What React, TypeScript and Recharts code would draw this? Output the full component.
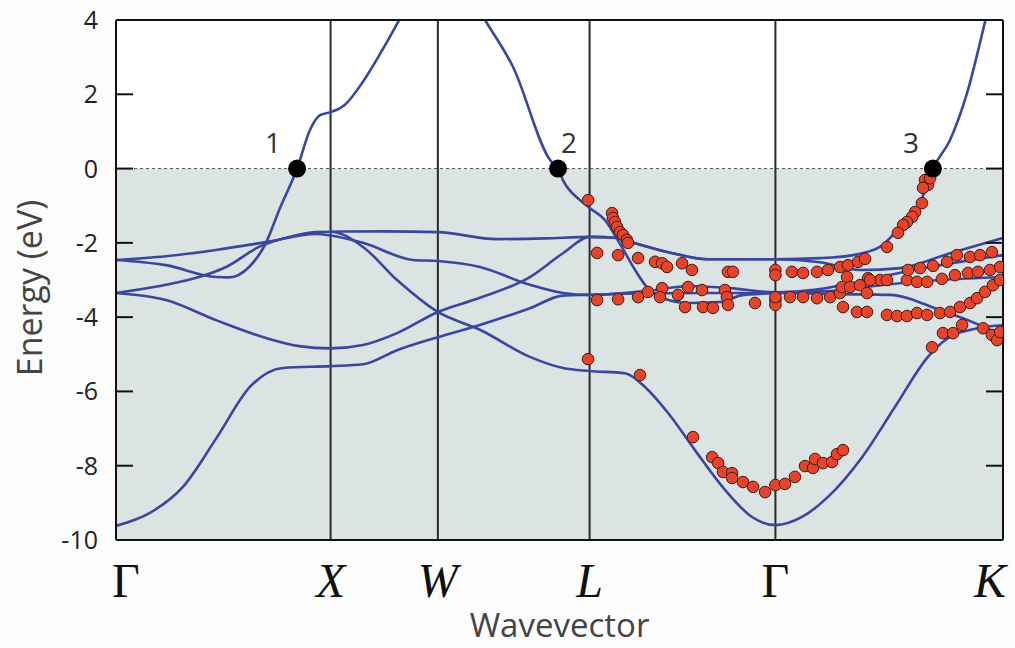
import React from "react";
import {
  ComposedChart, Line, Area, Scatter, XAxis, YAxis,
  ReferenceLine, Label,
} from "recharts";

// canvas + layout
const W = 1015;
const H = 648;
const MARGIN = { top: 20, right: 12, bottom: 0, left: 0 };
const Y_AXIS_W = 116;
const X_AXIS_H = 108;
const PLOT_L = MARGIN.left + Y_AXIS_W;
const PLOT_R = W - MARGIN.right;

// k-path (units of 2π/a), FCC: Γ-X-W-L-Γ-K
const SYM_K = [0, 1, 1.5, 2.2071, 3.0731, 4.1337];
const SYM_LABELS = ["Γ", "X", "W", "L", "Γ", "K"];
const K_END = SYM_K[SYM_K.length - 1];

const E_MIN = -10;
const E_MAX = 4;
const E_TICKS = [-10, -8, -6, -4, -2, 0, 2, 4];
const E_FERMI = 0;

// calculated bands, [k, E(eV)]
const BAND_1 = [
  [0, -9.62], [0.158, -9.27], [0.312, -8.57], [0.471, -7.23], [0.624, -5.88], [0.778, -5.37], [1.0, -5.32],
  [1.151, -5.27], [1.31, -4.89], [1.5, -4.54],
  [1.696, -4.21], [1.929, -3.76], [2.083, -3.42], [2.207, -3.40],
  [2.45, -3.36], [2.75, -3.35], [3.073, -3.35],
  [3.374, -3.38], [3.607, -3.40], [3.84, -3.81], [4.003, -4.16], [4.134, -4.50],
];
const BAND_2 = [
  [0, -3.35], [0.233, -3.54], [0.466, -4.08], [0.699, -4.56], [0.853, -4.78], [1.0, -4.84],
  [1.151, -4.75], [1.31, -4.43], [1.5, -3.86],
  [1.696, -3.48], [1.929, -2.92], [2.083, -2.28], [2.207, -1.84],
  [2.339, -1.87], [2.419, -2.01], [2.573, -2.25], [2.759, -2.44], [3.073, -2.44],
  [3.281, -2.52], [3.467, -2.73], [3.654, -2.68], [3.887, -2.28], [4.134, -1.87],
];
const BAND_3 = [
  [0, -3.35], [0.233, -3.13], [0.387, -2.92], [0.513, -2.65], [0.666, -2.11], [0.806, -1.84], [0.932, -1.71], [1.0, -1.70],
  [1.151, -2.11], [1.31, -3.0], [1.5, -3.86],
  [1.696, -4.34], [1.929, -5.07], [2.083, -5.37], [2.207, -5.45],
  [2.372, -5.51], [2.465, -5.88], [2.573, -6.58], [2.698, -7.58], [2.838, -8.65], [2.964, -9.38], [3.073, -9.60],
  [3.197, -9.38], [3.318, -8.84], [3.477, -7.77], [3.63, -6.42], [3.784, -5.07], [3.863, -4.62], [4.013, -4.30], [4.134, -4.22],
];
const BAND_4 = [
  [0, -2.46], [0.233, -2.36], [0.466, -2.19], [0.699, -1.98], [0.932, -1.76], [1.0, -1.80],
  [1.151, -2.0], [1.384, -2.46], [1.5, -2.49],
  [1.696, -2.65], [1.929, -3.13], [2.083, -3.35], [2.207, -3.40],
  [2.475, -3.30], [2.675, -3.16], [2.861, -3.22], [3.073, -3.33],
  [3.327, -3.30], [3.56, -3.14], [3.84, -3.0], [4.134, -2.92],
];
const BAND_5 = [
  [0, -2.46], [0.233, -2.60], [0.466, -2.92], [0.527, -2.93], [0.62, -2.65], [0.699, -2.0], [0.76, -1.12],
  [0.844, 0], [0.904, 1.04], [0.951, 1.44], [1.0, 1.52],
  [1.067, 1.72], [1.151, 2.34], [1.23, 3.08], [1.324, 4.05], [1.5, 6.2],
  [1.72, 4.0], [1.85, 2.74], [2.023, 0.23], [2.06, 0], [2.083, -0.31], [2.162, -0.85], [2.207, -1.06],
  [2.279, -1.39], [2.339, -1.93], [2.419, -2.73], [2.475, -3.20], [2.549, -3.49], [2.675, -3.62], [2.829, -3.59], [2.908, -3.42], [3.073, -3.35],
  [3.281, -3.24], [3.435, -3.08], [3.56, -2.92], [3.793, -2.65], [4.134, -2.33],
];
const BAND_6 = [
  [1.0, -1.70], [1.25, -1.69], [1.5, -1.71], [1.776, -1.90], [2.0, -1.88], [2.207, -1.84],
  [2.339, -1.87], [2.419, -2.01], [2.573, -2.25], [2.759, -2.44], [3.073, -2.44],
  [3.281, -2.41], [3.435, -2.33], [3.56, -2.11], [3.654, -1.57], [3.747, -0.93], [3.807, 0],
  [3.887, 0.77], [3.966, 2.03], [4.05, 3.95], [4.134, 6.0],
];
const BANDS = [BAND_1, BAND_2, BAND_3, BAND_4, BAND_5, BAND_6];

// measured (ARPES) points, [k, E(eV)]
const EXP_L_GAMMA = [
  [2.2, -0.85], [2.2, -5.13],
  [2.312, -1.2], [2.316, -1.33], [2.325, -1.44], [2.335, -1.57], [2.349, -1.71], [2.363, -1.79], [2.381, -1.92], [2.386, -2.0],
  [2.242, -2.27], [2.34, -2.33], [2.433, -2.41], [2.512, -2.51], [2.545, -2.55], [2.568, -2.65], [2.638, -2.55], [2.684, -2.73],
  [2.852, -2.78], [2.875, -2.78], [3.073, -2.73], [3.073, -2.87],
  [2.242, -3.54], [2.34, -3.52], [2.433, -3.46], [2.479, -3.32], [2.545, -3.22], [2.535, -3.46], [2.619, -3.4], [2.652, -3.73],
  [2.666, -3.19], [2.731, -3.27], [2.736, -3.73], [2.782, -3.75], [2.838, -3.27], [2.847, -3.46], [2.852, -3.67], [2.978, -3.62],
  [3.073, -3.54], [3.073, -3.67], [3.073, -3.46],
  [2.442, -5.56], [2.689, -7.23], [2.778, -7.77], [2.806, -7.93], [2.829, -8.17], [2.871, -8.2], [2.871, -8.33], [2.922, -8.44],
  [2.969, -8.57], [3.025, -8.71],
];
const EXP_GAMMA_K = [
  [3.073, -8.52], [3.118, -8.49], [3.164, -8.3], [3.211, -8.01], [3.248, -8.06], [3.258, -7.82], [3.295, -7.93], [3.337, -7.9],
  [3.36, -7.69], [3.388, -7.58],
  [3.77, -0.31], [3.784, -0.44], [3.761, -0.52], [3.794, -0.26], [3.756, -0.93], [3.724, -1.17], [3.71, -1.3], [3.686, -1.44],
  [3.668, -1.52], [3.644, -1.73], [3.593, -2.11],
  [3.15, -2.78], [3.202, -2.81], [3.267, -2.78], [3.318, -2.73], [3.374, -2.65], [3.411, -2.6], [3.458, -2.51], [3.491, -2.43],
  [3.407, -2.92], [3.505, -2.95], [3.561, -3.0], [3.593, -3.0], [3.686, -3.0], [3.733, -3.05], [3.78, -3.05], [3.849, -2.97],
  [3.91, -2.87], [3.971, -2.81], [4.017, -2.78], [4.073, -2.73], [4.12, -2.65],
  [3.691, -2.73], [3.747, -2.68], [3.808, -2.62], [3.873, -2.51], [3.919, -2.33], [3.98, -2.38], [4.027, -2.33], [4.082, -2.25],
  [3.141, -3.46], [3.202, -3.46], [3.267, -3.49], [3.328, -3.46], [3.374, -3.35], [3.383, -3.19], [3.421, -3.19], [3.467, -3.14],
  [3.5, -3.35], [3.514, -3.0],
  [3.388, -3.73], [3.453, -3.86], [3.5, -3.86], [3.593, -3.94], [3.64, -3.97], [3.686, -3.97], [3.733, -3.89], [3.78, -3.94],
  [3.84, -3.89], [3.887, -3.86], [3.933, -3.73], [3.98, -3.62], [4.013, -3.49], [4.05, -3.32], [4.087, -3.14], [4.12, -3.0],
  [3.803, -4.81], [3.854, -4.43], [3.901, -4.43], [3.943, -4.21], [4.041, -4.3], [4.082, -4.48], [4.106, -4.62], [4.12, -4.4],
];

// Fermi-level crossings
const FERMI_K = [0.844, 2.06, 3.807];
const FERMI_NAMES = ["1", "2", "3"];

const toPts = (arr: number[][]) => arr.map(([k, e]) => ({ k, e }));
const EXP_PTS = toPts([...EXP_L_GAMMA, ...EXP_GAMMA_K]);
const FERMI_PTS = FERMI_K.map((k, i) => ({ k, e: E_FERMI, name: FERMI_NAMES[i] }));
// occupied (below E_F) and empty (above E_F) regions
const OCCUPIED = [{ k: 0, e: E_FERMI }, { k: K_END, e: E_FERMI }];
const EMPTY = [{ k: 0, e: E_MAX }, { k: K_END, e: E_MAX }];

const BAND_COLOR = "#3a47a0";
const FRAME = "#111";
const SANS = "'Open Sans', 'DejaVu Sans', sans-serif";
const SERIF = "'Liberation Serif', 'DejaVu Serif', serif";
const LABEL_DX: Record<string, number> = { "1": -24, "2": 11, "3": -22 };

function KTick(props: any) {
  const { x, y, index } = props;
  const last = SYM_K.length - 1;
  const anchor = index === 0 ? "start" : index === last ? "end" : "middle";
  const dx = index === 0 ? -4 : index === last ? 3 : 0;
  const label = SYM_LABELS[index];
  return (
    <text x={x + dx} y={y + 57} textAnchor={anchor} fontFamily={SERIF} fontSize={48}
      fontStyle={label === "Γ" ? "normal" : "italic"} fill="#111">
      {label}
    </text>
  );
}

function ETick(props: any) {
  const { x, y, payload } = props;
  return (
    <g>
      <text x={x - 18} y={y} dy="0.36em" textAnchor="end" fontFamily={SANS} fontSize={25} fill="#222">
        {payload.value}
      </text>
      <line x1={PLOT_L} x2={PLOT_L + 17} y1={y} y2={y} stroke={FRAME} strokeWidth={2} />
      <line x1={PLOT_R - 17} x2={PLOT_R} y1={y} y2={y} stroke={FRAME} strokeWidth={2} />
    </g>
  );
}

export default function App() {
  return (
    <div style={{ position: "absolute", left: 0, top: 0, width: W, height: H, background: "#fcfcfc" }}>
      <ComposedChart width={W} height={H} margin={MARGIN}>
        <XAxis type="number" dataKey="k" domain={[0, K_END]} ticks={SYM_K} interval={0}
          allowDataOverflow height={X_AXIS_H} tickSize={0} tickMargin={0}
          axisLine={false} tickLine={false} tick={(p: any) => <KTick {...p} />}>
          <Label value="Wavevector" position="insideBottom" offset={11}
            style={{ fontFamily: SANS, fontSize: 33, fill: "#444" }} />
        </XAxis>
        <YAxis type="number" dataKey="e" domain={[E_MIN, E_MAX]} ticks={E_TICKS} interval={0}
          allowDataOverflow width={Y_AXIS_W} tickSize={0} tickMargin={0}
          axisLine={false} tickLine={false} tick={(p: any) => <ETick {...p} />}>
          <Label content={({ viewBox }: any) => (
            <text transform={`translate(${viewBox.x + 42},${viewBox.y + viewBox.height / 2 + 8}) rotate(-90)`}
              textAnchor="middle" fontFamily={SANS} fontSize={34} fill="#444">
              Energy (eV)
            </text>
          )} />
        </YAxis>

        <Area data={EMPTY} dataKey="e" type="linear" baseValue={E_FERMI} fill="#ffffff" fillOpacity={1}
          stroke="none" dot={false} activeDot={false} isAnimationActive={false} />
        <Area data={OCCUPIED} dataKey="e" type="linear" baseValue={E_MIN} fill="#dce3e3" fillOpacity={1}
          stroke="none" dot={false} activeDot={false} isAnimationActive={false} />
        {SYM_K.slice(1, -1).map((k) => (
          <ReferenceLine key={k} x={k} stroke="#2a2a2a" strokeWidth={2} />
        ))}
        <ReferenceLine y={E_FERMI} stroke="#555" strokeDasharray="3 3" strokeWidth={1} />

        {BANDS.map((b, i) => (
          <Line key={i} data={toPts(b)} dataKey="e" type="monotone" stroke={BAND_COLOR} strokeWidth={2.6}
            dot={false} activeDot={false} isAnimationActive={false} />
        ))}

        <Scatter data={EXP_PTS} dataKey="e" isAnimationActive={false}
          shape={(p: any) => <circle cx={p.cx} cy={p.cy} r={5.8} fill="#e5432a" stroke="#4a1a12" strokeWidth={1} />} />

        <Scatter data={FERMI_PTS} dataKey="e" isAnimationActive={false}
          shape={(p: any) => (
            <g>
              <circle cx={p.cx} cy={p.cy} r={9} fill="#000" />
              <text x={p.cx + LABEL_DX[p.payload.name]} y={p.cy - 16} textAnchor="middle"
                fontFamily={SANS} fontSize={28} fill="#333">{p.payload.name}</text>
            </g>
          )} />

        {/* plot frame */}
        <ReferenceLine x={0} stroke={FRAME} strokeWidth={2} />
        <ReferenceLine x={K_END} stroke={FRAME} strokeWidth={2} />
        <ReferenceLine y={E_MIN} stroke={FRAME} strokeWidth={2} />
        <ReferenceLine y={E_MAX} stroke={FRAME} strokeWidth={2} />
      </ComposedChart>
    </div>
  );
}
